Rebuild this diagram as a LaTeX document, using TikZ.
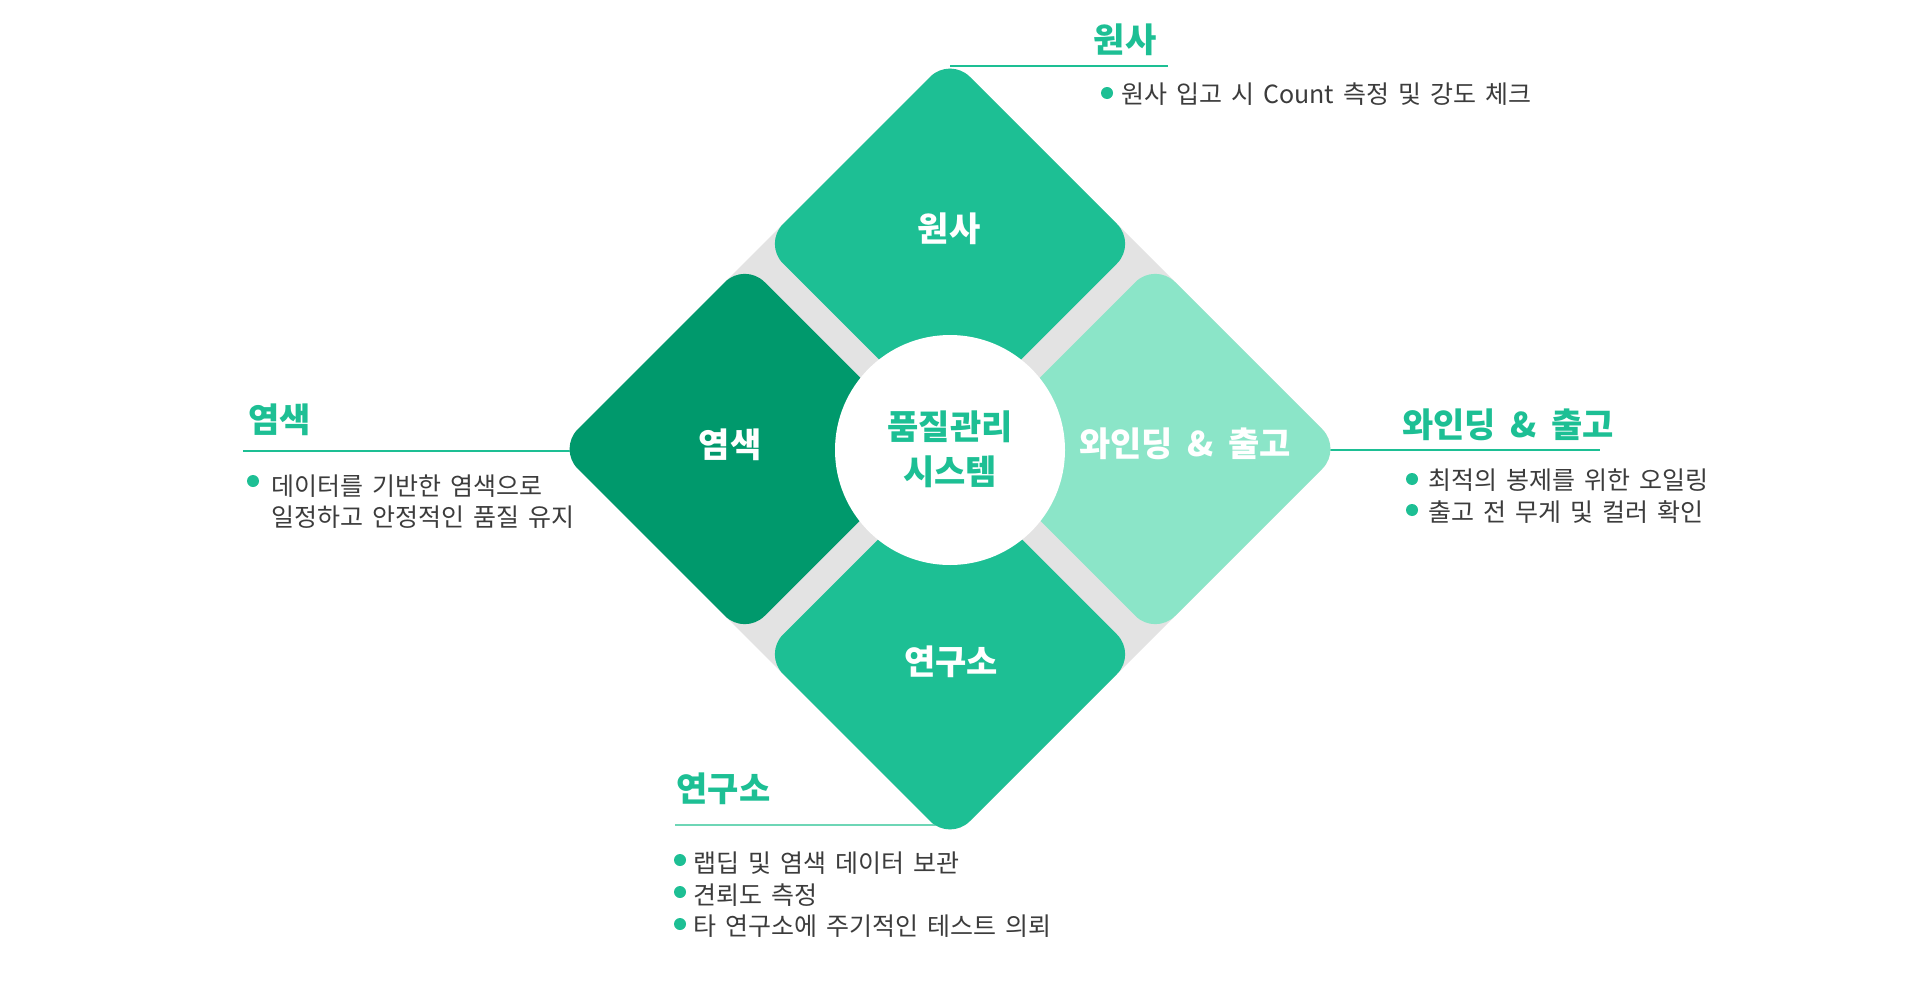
\documentclass[tikz,border=0pt]{standalone}
\usepackage{fontspec}
\setmainfont{Noto Sans CJK KR}
\definecolor{qgreen}{HTML}{1DBF94}
\definecolor{qdark}{HTML}{00996C}
\definecolor{qlight}{HTML}{8BE5C8}
\definecolor{qgray}{HTML}{E3E3E3}
\definecolor{qtext}{HTML}{3C3C3C}
\definecolor{qline}{HTML}{6ED6B6}
\newcommand\lblfont{\fontsize{34}{40}\selectfont\bfseries\spaceskip=0.42em\relax}
\newcommand\bodyfont{\fontsize{25}{30}\selectfont\spaceskip=0.36em\relax}
\tikzset{
  lbl/.style={font=\lblfont, text=white, inner sep=0pt},
  ttl/.style={font=\lblfont, text=qgreen, inner sep=0pt},
  body/.style={font=\bodyfont, text=qtext, inner sep=0pt, anchor=west},
  bdot/.style={circle, fill=qgreen, minimum size=12pt, inner sep=0pt},
  uline/.style={draw=qgreen, line width=2pt},
  petal/.style={rounded corners=28pt},
}
\begin{document}
\begin{tikzpicture}[x=1pt,y=-1pt]
\useasboundingbox (0,0) rectangle (1919,998);
\fill[white] (0,0) rectangle (1919,998);
% callout lines
\coordinate (topTip) at (950,66);
\coordinate (topEnd) at (1168,66);
\coordinate (leftTip) at (572,451);
\coordinate (leftEnd) at (243,451);
\coordinate (rightTip) at (1328,450);
\coordinate (rightEnd) at (1600,450);
\coordinate (botTip) at (950,825);
\coordinate (botEnd) at (675,825);
\draw[uline] (topTip) -- (topEnd);
\draw[uline] (leftTip) -- (leftEnd);
\draw[uline] (rightTip) -- (rightEnd);
\draw[uline, draw=qline] (botTip) -- (botEnd);
% gray base
\fill[qgray, petal] (950,57) -- ++(392,392) -- ++(-392,392) -- ++(-392,-392) -- cycle;
% petals
\fill[qgreen, petal] (950,57) -- ++(186.75,186.75) -- ++(-186.75,186.75) -- ++(-186.75,-186.75) -- cycle;
\fill[qdark, petal] (744.75,262.25) -- ++(186.75,186.75) -- ++(-186.75,186.75) -- ++(-186.75,-186.75) -- cycle;
\fill[qlight, petal] (1155.25,262.25) -- ++(186.75,186.75) -- ++(-186.75,186.75) -- ++(-186.75,-186.75) -- cycle;
\fill[qgreen, petal] (950,467.5) -- ++(186.75,186.75) -- ++(-186.75,186.75) -- ++(-186.75,-186.75) -- cycle;
% center
\node[circle, fill=white, minimum size=230pt, inner sep=0pt] (hub) at (950,450) {};
\node[font=\fontsize{34}{45}\selectfont\bfseries, text=qgreen, align=center, inner sep=0pt] (hubtxt) at (950,449) {품질관리\\시스템};
% petal labels
\node[lbl] (pTop) at (949,229) {원사};
\node[lbl] (pLeft) at (730,445) {염색};
\node[lbl] (pRight) at (1185,444) {와인딩 \& 출고};
\node[lbl] (pBot) at (951,662) {연구소};
% titles
\node[ttl] (tTop) at (1125,39.5) {원사};
\node[ttl] (tLeft) at (279.5,419.5) {염색};
\node[ttl] (tRight) at (1508,425) {와인딩 \& 출고};
\node[ttl] (tBot) at (723.5,788.5) {연구소};
% bullets and body text
\node[bdot] (d1) at (1107,93) {};
\node[body] (b1) at (1121,94) {원사 입고 시 Count 측정 및 강도 체크};
\node[bdot] (d2) at (253,481) {};
\node[body] (b2) at (271,486.5) {데이터를 기반한 염색으로};
\node[body] (b3) at (271,517.5) {일정하고 안정적인 품질 유지};
\node[bdot] (d3) at (1412,479) {};
\node[body] (b4) at (1428,480.5) {최적의 봉제를 위한 오일링};
\node[bdot] (d4) at (1412,510) {};
\node[body] (b5) at (1428,512) {출고 전 무게 및 컬러 확인};
\node[bdot] (d5) at (680,860) {};
\node[body] (b6) at (693,863.5) {랩딥 및 염색 데이터 보관};
\node[bdot] (d6) at (680,892) {};
\node[body] (b7) at (693,895) {견뢰도 측정};
\node[bdot] (d7) at (680,924) {};
\node[body] (b8) at (693,926) {타 연구소에 주기적인 테스트 의뢰};
\end{tikzpicture}
\end{document}
